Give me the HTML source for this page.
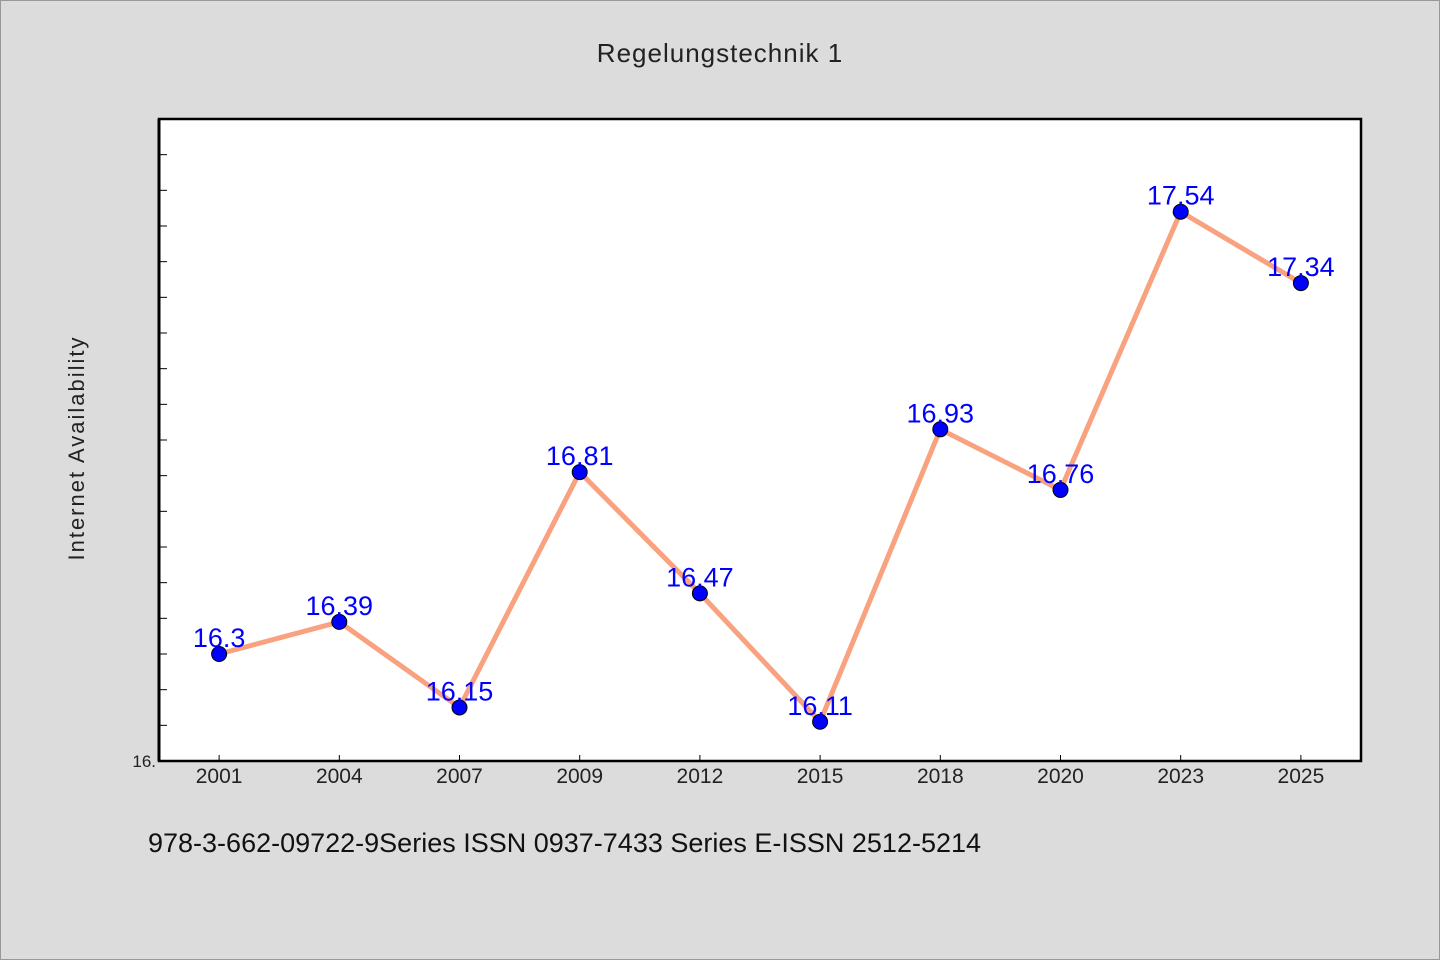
<!DOCTYPE html>
<html><head><meta charset="utf-8"><style>
html,body{margin:0;padding:0;background:#dcdcdc;}
svg{display:block;font-family:"WenQuanYi Zen Hei","Liberation Sans",sans-serif;}
</style></head><body>
<svg id="c" width="1440" height="960">
<rect x="0.5" y="0.5" width="1439" height="959" fill="#dcdcdc" stroke="#999"/>
<text x="720" y="62" text-anchor="middle" font-size="26" fill="#222" letter-spacing="1">Regelungstechnik 1</text>
<rect x="159" y="119" width="1202" height="642" fill="#fff" stroke="#000" stroke-width="2.5"/>
<text transform="translate(84,448) rotate(-90)" text-anchor="middle" font-size="22" fill="#222" letter-spacing="2">Internet Availability</text>
<text x="148" y="852" font-size="27" fill="#111">978-3-662-09722-9Series ISSN 0937-7433 Series E-ISSN 2512-5214</text>
<g id="ax"></g><g id="marks"></g>
</svg>
<script>
const categories=["2001","2004","2007","2009","2012","2015","2018","2020","2023","2025"];
const values=[16.3,16.39,16.15,16.81,16.47,16.11,16.93,16.76,17.54,17.34];
const valueLabels=["16.3","16.39","16.15","16.81","16.47","16.11","16.93","16.76","17.54","17.34"];
const yMin=16, yMax=17.8;
const L=159,R=1361,T=119,B=761;
const ns="http://www.w3.org/2000/svg";
function y(v){return B-(v-yMin)/(yMax-yMin)*(B-T);}
function x(i){const bw=(R-L)/categories.length;return L+bw*(i+0.5);}
function mk(t,a,p){const e=document.createElementNS(ns,t);for(const k in a)e.setAttribute(k,a[k]);p.appendChild(e);return e;}
const ax=document.getElementById('ax'),mg=document.getElementById('marks');
mk('line',{x1:L,y1:T,x2:L,y2:B,stroke:'#000','stroke-width':3},ax);
for(let v=16.1;v<yMax-0.001;v+=0.1){
 const t=mk('line',{x1:L,y1:y(v),x2:L+8,y2:y(v),stroke:'#000','stroke-width':1},ax);
 
 
}
const yl=mk('text',{x:156,y:B+6,'text-anchor':'end','font-size':17,fill:'#222'},ax);yl.textContent='16.';


categories.forEach((c,i)=>{
 const t=mk('line',{x1:x(i),y1:B,x2:x(i),y2:B-6,stroke:'#000','stroke-width':1},ax);
 
 
 const l=mk('text',{x:x(i),y:B+22,'text-anchor':'middle','font-size':21,fill:'#222'},ax);l.textContent=c;
 
 
});
const pts=values.map((v,i)=>x(i)+','+y(v)).join(' ');
const pl=mk('polyline',{points:pts,fill:'none',stroke:'#f9a27f','stroke-width':5,'stroke-linejoin':'round'},mg);


values.forEach((v,i)=>{
 const c=mk('circle',{cx:x(i),cy:y(v),r:7.5,fill:'#0000ff',stroke:'#000','stroke-width':1},mg);
 
 
 const t=mk('text',{x:x(i),y:y(v)-7,'text-anchor':'middle','font-size':27,fill:'#0000ff'},mg);t.textContent=valueLabels[i];
 
 
});
</script>
</body></html>
